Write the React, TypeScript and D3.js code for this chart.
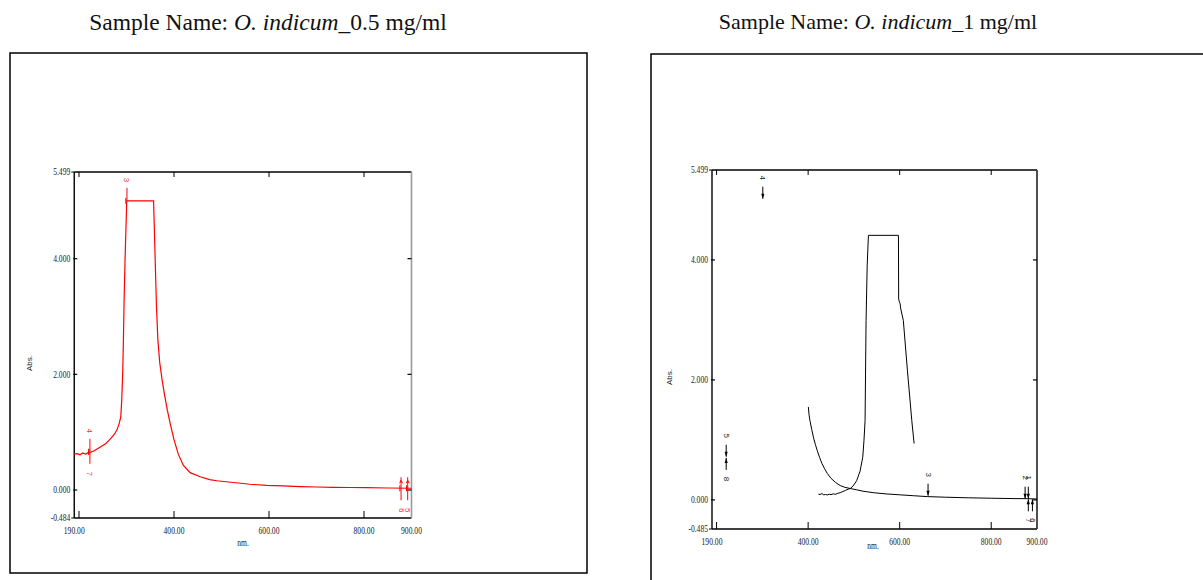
import React from 'react';
import * as d3 from 'd3';

// ---------- data ----------
const leftNm = [190, 196, 202, 208, 214, 220, 226, 232, 238, 244, 250, 256, 262, 268, 274, 280, 285, 288, 290, 292, 293.5, 295, 297, 299, 300.5, 301, 357, 360, 363, 366, 370, 375, 380, 386, 392, 400, 409, 419.5, 434, 455, 475, 490, 525, 560, 595, 630, 665, 700, 735, 770, 805, 850, 897, 900];
const leftAbs = [0.62, 0.63, 0.61, 0.64, 0.62, 0.65, 0.66, 0.68, 0.71, 0.74, 0.77, 0.8, 0.85, 0.9, 0.96, 1.04, 1.16, 1.27, 1.56, 2.02, 2.6, 3.3, 4.0, 4.56, 5.0, 5.0, 5.0, 4.1, 3.2, 2.6, 2.2, 1.9, 1.65, 1.38, 1.15, 0.87, 0.62, 0.43, 0.3, 0.23, 0.18, 0.16, 0.13, 0.1, 0.08, 0.07, 0.06, 0.052, 0.047, 0.043, 0.04, 0.035, 0.03, 0.03];

const rightANm = [400.5, 402, 404, 408, 412, 416, 420, 425, 430, 436, 442, 450, 460, 470, 480, 492, 505, 520, 543, 570, 600, 630, 660, 700, 750, 800, 850, 880, 900];
const rightAAbs = [1.55, 1.42, 1.32, 1.17, 1.03, 0.92, 0.82, 0.71, 0.61, 0.52, 0.44, 0.36, 0.29, 0.24, 0.21, 0.19, 0.17, 0.145, 0.12, 0.1, 0.085, 0.07, 0.055, 0.045, 0.035, 0.028, 0.022, 0.02, 0.015];

const rightBNm = [422.5, 426, 430, 434, 438, 442, 446, 450, 455, 460, 465, 470, 476, 482, 488, 492, 498, 506, 513.5, 519.3, 522, 524.4, 526.6, 529, 531.7, 597.3, 597.8, 599.4, 601, 602, 608, 617, 626.5, 631.5];
const rightBAbs = [0.095, 0.09, 0.105, 0.085, 0.09, 0.083, 0.095, 0.088, 0.1, 0.095, 0.11, 0.12, 0.14, 0.16, 0.18, 0.19, 0.23, 0.32, 0.48, 0.71, 0.99, 1.32, 2.99, 3.9, 4.41, 4.41, 3.35, 3.3, 3.27, 3.2, 2.99, 2.15, 1.32, 0.94];

const xTickMarks = [200, 400, 600, 800];
const xLabelValues = [190, 400, 600, 800, 900];
const xLabelTexts = ['190.00', '400.00', '600.00', '800.00', '900.00'];
const yInnerTicks = [4, 2, 0];
const leftYValues = [5.499, 4, 2, 0, -0.484];
const leftYTexts = ['5.499', '4.000', '2.000', '0.000', '-0.484'];
const rightYValues = [5.499, 4, 2, 0, -0.485];
const rightYTexts = ['5.499', '4.000', '2.000', '0.000', '-0.485'];

const leftPeakLabels = ['3', '4', '7', '6', '5'];
const leftPeakNm = [301, 223, 223, 878, 892];
const leftPeakAbs = [5.0, 0.66, 0.66, 0.03, 0.03];
const leftPeakDir = ['up', 'up', 'down', 'both', 'both'];

const rightPeakLabels = ['4', '5', '8', '3', '2', '1', '7', '6'];
const rightPeakNm = [301, 221, 221, 662, 874, 881, 881, 890];
const rightPeakAbs = [5.02, 0.72, 0.7, 0.07, 0.02, 0.02, 0.01, 0.01];
const rightPeakDir = ['up', 'up', 'down', 'up', 'up', 'up', 'down', 'down'];

// ---------- helpers ----------
const condensed = (x: number, y: number, text: string, anchor: string, fs: number, key?: string) => (
  <text key={key} transform={`translate(${x},${y}) scale(0.8,1)`} textAnchor={anchor}
    fontFamily="'Liberation Serif', serif" fontSize={fs} fill="#222">{text}</text>
);

type PanelProps = {
  x: d3.ScaleLinear<number, number>;
  y: d3.ScaleLinear<number, number>;
  yValues: number[];
  yTexts: string[];
  rightColor: string;
  absPos: [number, number];
  nmPos: [number, number];
};

function Frame({ x, y, yValues, yTexts, rightColor, absPos, nmPos }: PanelProps) {
  const [x0, x1] = x.range();
  const [yb, yt] = y.range();
  return (
    <g>
      <line x1={x0} y1={yt} x2={x1} y2={yt} stroke="#000" strokeWidth={1.4} />
      <line x1={x0} y1={yb} x2={x1} y2={yb} stroke="#000" strokeWidth={1.4} />
      <line x1={x0} y1={yt} x2={x0} y2={yb} stroke="#000" strokeWidth={1.4} />
      <line x1={x1} y1={yt} x2={x1} y2={yb} stroke={rightColor} strokeWidth={1.6} />
      {xTickMarks.map(v => (
        <g key={'xt' + v}>
          <line x1={x(v)} x2={x(v)} y1={yb} y2={yb - 7} stroke="#000" strokeWidth={1} />
          <line x1={x(v)} x2={x(v)} y1={yt} y2={yt + 5} stroke="#000" strokeWidth={1} />
        </g>
      ))}
      {yInnerTicks.map(v => (
        <g key={'yt' + v}>
          <line x1={x0 - 1} x2={x0 + 3} y1={y(v)} y2={y(v)} stroke="#000" strokeWidth={1.2} />
          <line x1={x1} x2={x1 - 4} y1={y(v)} y2={y(v)} stroke="#000" strokeWidth={1.2} />
        </g>
      ))}
      <line x1={x0 - 3} x2={x0} y1={yt} y2={yt} stroke="#000" strokeWidth={1} />
      <line x1={x0 - 3} x2={x0} y1={yb} y2={yb} stroke="#000" strokeWidth={1} />
      {yValues.map((v, i) => condensed(x0 - 4, y(v) + 3.3, yTexts[i], 'end', 9.5, 'yl' + i))}
      {xLabelValues.map((v, i) => condensed(x(v), yb + 16, xLabelTexts[i], 'middle', 9.5, 'xl' + i))}
      <text transform={`translate(${absPos[0]},${absPos[1]}) rotate(-90)`} textAnchor="middle"
        fontFamily="'Liberation Sans', sans-serif" fontSize={8} fill="#222">Abs.</text>
      {condensed(nmPos[0], nmPos[1], 'nm.', 'middle', 9.5)}
    </g>
  );
}

export default function App() {
  const xL = d3.scaleLinear().domain([190, 900]).range([74.25, 411.5]);
  const yL = d3.scaleLinear().domain([-0.484, 5.499]).range([518, 172]);
  const xR = d3.scaleLinear().domain([190, 900]).range([712, 1037]);
  const yR = d3.scaleLinear().domain([-0.485, 5.499]).range([529, 170]);

  const lineL = d3.line<number>().x((d, i) => xL(leftNm[i])).y(d => yL(d));
  const lineRA = d3.line<number>().x((d, i) => xR(rightANm[i])).y(d => yR(d));
  const lineRB = d3.line<number>().x((d, i) => xR(rightBNm[i])).y(d => yR(d));

  const titleFont = "'Liberation Serif', 'Times New Roman', serif";

  return (
    <svg width={1203} height={580} style={{ position: 'absolute', left: 0, top: 0, background: '#fff' }}>
      <rect x={0} y={0} width={1203} height={580} fill="#fff" />
      {/* titles */}
      <text x={268} y={30} textAnchor="middle" fontFamily={titleFont} fontSize={23.5} fill="#111">
        Sample Name: <tspan fontStyle="italic">O. indicum</tspan>_0.5 mg/ml
      </text>
      <text x={878} y={29} textAnchor="middle" fontFamily={titleFont} fontSize={22} fill="#111">
        Sample Name: <tspan fontStyle="italic">O. indicum</tspan>_1 mg/ml
      </text>
      {/* outer boxes */}
      <rect x={10} y={53} width={577} height={520} fill="none" stroke="#000" strokeWidth={1.5} />
      <rect x={651} y={54} width={620} height={600} fill="none" stroke="#000" strokeWidth={1.5} />

      {/* left panel */}
      <Frame x={xL} y={yL} yValues={leftYValues} yTexts={leftYTexts} rightColor="#9a9a9a"
        absPos={[32, 363]} nmPos={[243, 546]} />
      <path d={lineL(leftAbs) || ''} fill="none" stroke="#ff0000" strokeWidth={1.2} />
      {leftPeakLabels.map((lab, i) => {
        const px = xL(leftPeakNm[i]);
        const py = yL(leftPeakAbs[i]);
        const dir = leftPeakDir[i];
        const ly = dir === 'up' ? py - 21 : py + 22;
        return (
          <g key={'lp' + i} stroke="#ff0000" strokeWidth={1}>
            {dir === 'up' && <line x1={px} x2={px} y1={py} y2={py - 13} />}
            {dir === 'down' && <line x1={px} x2={px} y1={py} y2={py + 12} />}
            {dir === 'both' && <line x1={px} x2={px} y1={py - 11} y2={py + 12} />}
            {dir === 'both' && <path d={`M${px - 1.5},${py - 5} L${px},${py - 8} L${px + 1.5},${py - 5}`} fill="none" />}
            <line x1={px - 1.2} x2={px - 1.2} y1={py - 3} y2={py + 3} strokeWidth={1} />
            <text transform={`translate(${px},${ly}) rotate(90)`} textAnchor="middle" dominantBaseline="central"
              fontFamily="'Liberation Sans', sans-serif" fontSize={8} fill="#ff3030" stroke="none">{lab}</text>
          </g>
        );
      })}

      {/* right panel */}
      <Frame x={xR} y={yR} yValues={rightYValues} yTexts={rightYTexts} rightColor="#222"
        absPos={[672, 377]} nmPos={[873, 549]} />
      <path d={lineRA(rightAAbs) || ''} fill="none" stroke="#000" strokeWidth={1} />
      <path d={lineRB(rightBAbs) || ''} fill="none" stroke="#000" strokeWidth={1} />
      {rightPeakLabels.map((lab, i) => {
        const px = xR(rightPeakNm[i]);
        const py = yR(rightPeakAbs[i]);
        const up = rightPeakDir[i] === 'up';
        const s = up ? -1 : 1;
        const ly = py + s * 21;
        return (
          <g key={'rp' + i}>
            <line x1={px} x2={px} y1={py} y2={py + s * 12} stroke="#000" strokeWidth={1} />
            <path d={`M${px - 1.6},${py + s * 5} L${px},${py} L${px + 1.6},${py + s * 5} Z`} fill="#000" />
            <text transform={`translate(${px},${ly}) rotate(90)`} textAnchor="middle" dominantBaseline="central"
              fontFamily="'Liberation Sans', sans-serif" fontSize={8} fill="#222">{lab}</text>
          </g>
        );
      })}
    </svg>
  );
}
